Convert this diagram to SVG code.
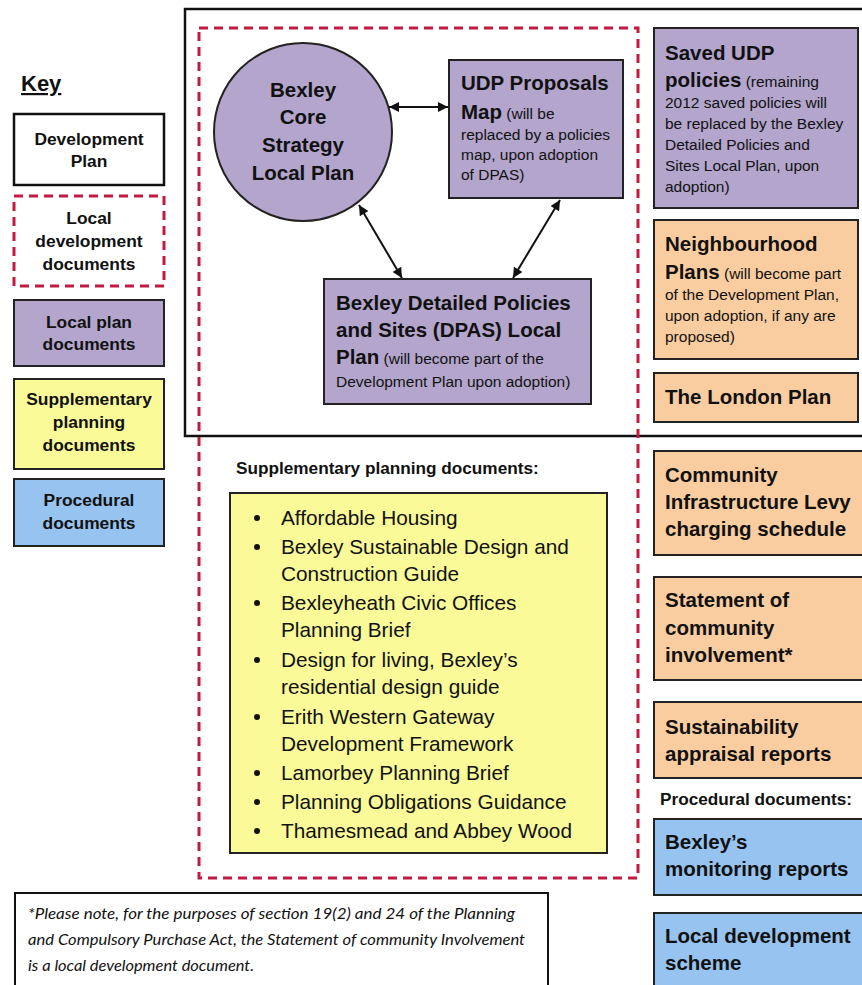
<svg xmlns="http://www.w3.org/2000/svg" width="862" height="985" viewBox="0 0 862 985">
<defs>
<style>
text{font-family:"Liberation Sans",Arial,sans-serif;fill:#111;}
.b{font-weight:bold;font-size:20.5px;}
.s{font-weight:normal;font-size:15.5px;}
.k{font-weight:bold;font-size:17.4px;text-anchor:middle;}
.li{font-size:20.8px;}
.lbl{font-weight:bold;font-size:17.2px;}
.note{font-family:Lato,"Open Sans",sans-serif;font-style:italic;font-size:15px;}
.box{stroke:#222;stroke-width:2;}
.pur{fill:#b3a5cc;}
.yel{fill:#fafa98;}
.org{fill:#facda0;}
.blu{fill:#96c3ef;}
.red{fill:none;stroke:#c41a3f;stroke-width:3;stroke-dasharray:9 6;}
.arr{stroke:#111;stroke-width:2;fill:none;marker-start:url(#ah);marker-end:url(#ah);}
</style>
<marker id="ah" viewBox="0 0 10 10" refX="10" refY="5" markerWidth="12" markerHeight="10" markerUnits="userSpaceOnUse" orient="auto-start-reverse">
<path d="M0,0 L10,5 L0,10 z" fill="#111"/>
</marker>
</defs>
<rect width="862" height="985" fill="#fff"/>

<g id="key">
<text x="21" y="91" style="font-weight:bold;font-size:22px;text-decoration:underline;">Key</text>
<g id="key-devplan"><rect x="14" y="114" width="150" height="71" fill="#fff" stroke="#111" stroke-width="2.5"/>
<text class="k" x="89" y="145">Development</text><text class="k" x="89" y="167">Plan</text></g>
<g id="key-ldd"><rect x="14" y="196" width="150" height="90" fill="#fff" class="red"/>
<text class="k" x="89" y="224">Local</text><text class="k" x="89" y="247">development</text><text class="k" x="89" y="270">documents</text></g>
<g id="key-lpd"><rect x="14" y="300" width="150" height="66" class="box pur"/>
<text class="k" x="89" y="328">Local plan</text><text class="k" x="89" y="350">documents</text></g>
<g id="key-spd"><rect x="14" y="379" width="150" height="90" class="box yel"/>
<text class="k" x="89" y="405">Supplementary</text><text class="k" x="89" y="428">planning</text><text class="k" x="89" y="451">documents</text></g>
<g id="key-proc"><rect x="14" y="479" width="150" height="67" class="box blu"/>
<text class="k" x="89" y="506">Procedural</text><text class="k" x="89" y="529">documents</text></g>
</g>

<g id="development-plan"><rect x="185" y="9" width="700" height="427" fill="none" stroke="#111" stroke-width="2.5"/></g>
<g id="local-development-documents"><rect x="199" y="28" width="439" height="850" class="red"/></g>

<g id="connectors">
<line class="arr" x1="389" y1="107" x2="448" y2="107"/>
<line class="arr" x1="359" y1="205" x2="402" y2="278"/>
<line class="arr" x1="560" y1="200" x2="513" y2="278"/>
</g>

<g id="core-strategy">
<circle cx="303" cy="132" r="89" class="box pur"/>
<text class="b" x="303" y="97" text-anchor="middle">Bexley</text>
<text class="b" x="303" y="124" text-anchor="middle">Core</text>
<text class="b" x="303" y="152" text-anchor="middle">Strategy</text>
<text class="b" x="303" y="180" text-anchor="middle">Local Plan</text>
</g>

<g id="udp-map">
<rect x="449" y="60" width="174" height="138" class="box pur"/>
<text class="b" x="461" y="90">UDP Proposals</text>
<text x="461" y="119"><tspan class="b">Map</tspan><tspan class="s"> (will be</tspan></text>
<text class="s" x="461" y="140">replaced by a policies</text>
<text class="s" x="461" y="160">map, upon adoption</text>
<text class="s" x="461" y="180">of DPAS)</text>
</g>

<g id="dpas">
<rect x="324" y="279" width="267" height="125" class="box pur"/>
<text class="b" x="336" y="310">Bexley Detailed Policies</text>
<text class="b" x="336" y="337">and Sites (DPAS) Local</text>
<text x="336" y="364"><tspan class="b">Plan</tspan><tspan class="s"> (will become part of the</tspan></text>
<text class="s" x="336" y="387">Development Plan upon adoption)</text>
</g>

<g id="saved-udp">
<rect x="654" y="28" width="204" height="180" class="box pur"/>
<text class="b" x="665" y="60">Saved UDP</text>
<text x="665" y="87"><tspan class="b">policies</tspan><tspan class="s"> (remaining</tspan></text>
<text class="s" x="665" y="108">2012 saved policies will</text>
<text class="s" x="665" y="129">be replaced by the Bexley</text>
<text class="s" x="665" y="150">Detailed Policies and</text>
<text class="s" x="665" y="171">Sites Local Plan, upon</text>
<text class="s" x="665" y="192">adoption)</text>
</g>

<g id="neighbourhood">
<rect x="654" y="220" width="204" height="139" class="box org"/>
<text class="b" x="665" y="251">Neighbourhood</text>
<text x="665" y="279"><tspan class="b">Plans</tspan><tspan class="s"> (will become part</tspan></text>
<text class="s" x="665" y="300">of the Development Plan,</text>
<text class="s" x="665" y="321">upon adoption, if any are</text>
<text class="s" x="665" y="342">proposed)</text>
</g>

<g id="london-plan">
<rect x="654" y="373" width="204" height="49" class="box org"/>
<text class="b" x="665" y="404">The London Plan</text>
</g>

<g id="cil">
<rect x="654" y="451" width="215" height="104" class="box org"/>
<text class="b" x="665" y="482">Community</text>
<text class="b" x="665" y="509">Infrastructure Levy</text>
<text class="b" x="665" y="536">charging schedule</text>
</g>

<g id="sci">
<rect x="654" y="577" width="215" height="103" class="box org"/>
<text class="b" x="665" y="607">Statement of</text>
<text class="b" x="665" y="635">community</text>
<text class="b" x="665" y="662">involvement*</text>
</g>

<g id="sa">
<rect x="654" y="702" width="215" height="76" class="box org"/>
<text class="b" x="665" y="734">Sustainability</text>
<text class="b" x="665" y="761">appraisal reports</text>
</g>

<text class="lbl" x="660" y="805">Procedural documents:</text>

<g id="monitoring">
<rect x="654" y="819" width="215" height="76" class="box blu"/>
<text class="b" x="665" y="849">Bexley’s</text>
<text class="b" x="665" y="876">monitoring reports</text>
</g>

<g id="lds">
<rect x="654" y="913" width="215" height="90" class="box blu"/>
<text class="b" x="665" y="943">Local development</text>
<text class="b" x="665" y="970">scheme</text>
</g>

<text class="lbl" x="236" y="474">Supplementary planning documents:</text>

<g id="spd-list">
<rect x="230" y="493" width="377" height="360" class="box yel"/>
<g fill="#111">
<circle cx="257" cy="518" r="3"/><circle cx="257" cy="547" r="3"/><circle cx="257" cy="603" r="3"/>
<circle cx="257" cy="660" r="3"/><circle cx="257" cy="717" r="3"/><circle cx="257" cy="773" r="3"/>
<circle cx="257" cy="802" r="3"/><circle cx="257" cy="831" r="3"/>
</g>
<text class="li" x="281" y="525">Affordable Housing</text>
<text class="li" x="281" y="554">Bexley Sustainable Design and</text>
<text class="li" x="281" y="581">Construction Guide</text>
<text class="li" x="281" y="610">Bexleyheath Civic Offices</text>
<text class="li" x="281" y="637">Planning Brief</text>
<text class="li" x="281" y="667">Design for living, Bexley’s</text>
<text class="li" x="281" y="694">residential design guide</text>
<text class="li" x="281" y="724">Erith Western Gateway</text>
<text class="li" x="281" y="751">Development Framework</text>
<text class="li" x="281" y="780">Lamorbey Planning Brief</text>
<text class="li" x="281" y="809">Planning Obligations Guidance</text>
<text class="li" x="281" y="838">Thamesmead and Abbey Wood</text>
</g>

<g id="footnote">
<rect x="15" y="893" width="533" height="110" fill="#fff" stroke="#111" stroke-width="2"/>
<text class="note" x="28" y="919" textLength="487" lengthAdjust="spacingAndGlyphs">*Please note, for the purposes of section 19(2) and 24 of the Planning</text>
<text class="note" x="28" y="945" textLength="497" lengthAdjust="spacingAndGlyphs">and Compulsory Purchase Act, the Statement of community Involvement</text>
<text class="note" x="28" y="971" textLength="226" lengthAdjust="spacingAndGlyphs">is a local development document.</text>
</g>
</svg>
